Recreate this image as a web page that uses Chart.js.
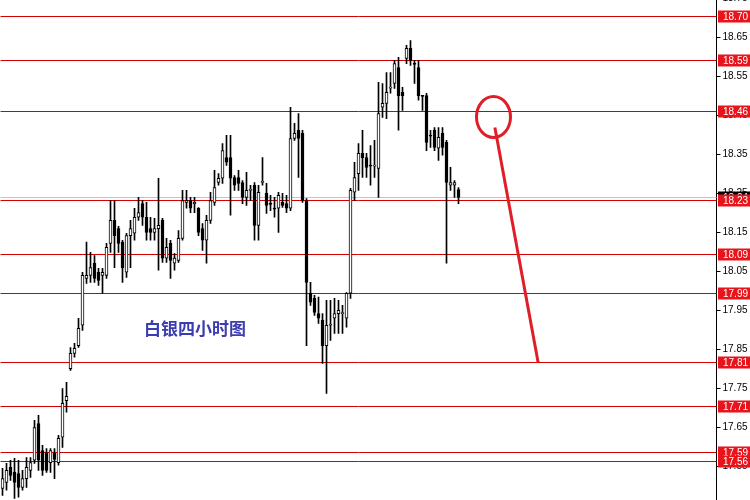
<!DOCTYPE html>
<html><head><meta charset="utf-8">
<script src="https://cdn.jsdelivr.net/npm/chart.js@4/dist/chart.umd.min.js"></script>
<style>html,body{margin:0;padding:0;background:#fff;overflow:hidden}canvas{display:block}</style>
</head><body>
<canvas id="c" width="750" height="500"></canvas>
<script>
// ---- data (silver, 4-hour candles) ----
const opens = [17.494,17.509,17.548,17.535,17.532,17.496,17.519,17.540,17.566,17.660,17.591,17.584,17.560,17.584,17.560,17.625,17.719,17.801,17.840,17.860,
17.912,18.032,18.040,18.071,18.048,18.040,18.040,18.122,18.181,18.160,18.125,18.048,18.142,18.148,18.189,18.224,18.189,18.160,18.150,18.160,
18.181,18.084,18.122,18.071,18.078,18.135,18.227,18.232,18.224,18.212,18.160,18.130,18.181,18.227,18.278,18.289,18.342,18.342,18.291,18.291,
18.278,18.240,18.258,18.271,18.168,18.278,18.250,18.224,18.212,18.212,18.227,18.224,18.212,18.391,18.412,18.404,18.232,17.994,17.981,17.942,
17.925,17.860,17.912,17.930,17.942,17.942,17.930,17.994,18.253,18.301,18.353,18.342,18.322,18.320,18.314,18.471,18.481,18.520,18.532,18.573,
18.509,18.596,18.622,18.583,18.573,18.501,18.501,18.399,18.412,18.366,18.404,18.381,18.271,18.271,18.260];
const highs = [17.545,17.558,17.566,17.571,17.566,17.540,17.573,17.573,17.668,17.681,17.604,17.596,17.596,17.596,17.630,17.750,17.766,17.855,17.866,17.930,
18.048,18.125,18.099,18.091,18.058,18.058,18.122,18.232,18.232,18.166,18.130,18.148,18.181,18.212,18.240,18.232,18.227,18.189,18.186,18.289,
18.186,18.135,18.130,18.096,18.155,18.258,18.258,18.240,18.240,18.214,18.173,18.194,18.253,18.309,18.301,18.378,18.399,18.399,18.296,18.309,
18.283,18.304,18.271,18.278,18.271,18.342,18.276,18.245,18.240,18.253,18.250,18.245,18.471,18.430,18.455,18.412,18.237,18.022,17.989,17.984,
17.942,17.976,17.976,17.981,17.976,17.963,17.996,18.263,18.330,18.378,18.412,18.353,18.373,18.386,18.535,18.532,18.560,18.560,18.591,18.599,
18.522,18.630,18.642,18.591,18.591,18.501,18.507,18.412,18.419,18.419,18.419,18.386,18.317,18.283,18.265];
const lows = [17.476,17.489,17.514,17.468,17.471,17.489,17.496,17.522,17.558,17.540,17.527,17.535,17.535,17.519,17.553,17.599,17.689,17.796,17.830,17.855,
17.899,18.019,18.022,18.022,18.014,17.994,18.032,18.099,18.060,18.099,18.022,18.035,18.060,18.130,18.181,18.168,18.130,18.130,18.130,18.053,
18.073,18.073,18.032,18.053,18.073,18.130,18.212,18.201,18.201,18.142,18.104,18.071,18.173,18.219,18.271,18.276,18.322,18.194,18.258,18.258,
18.224,18.219,18.232,18.130,18.130,18.271,18.199,18.206,18.189,18.150,18.214,18.201,18.206,18.386,18.291,18.227,17.860,17.963,17.937,17.917,
17.814,17.737,17.873,17.891,17.891,17.891,17.907,17.981,18.232,18.258,18.291,18.291,18.271,18.291,18.240,18.445,18.442,18.507,18.519,18.412,
18.463,18.583,18.578,18.532,18.489,18.463,18.360,18.368,18.360,18.335,18.348,18.071,18.258,18.240,18.224];
const closes = [17.519,17.540,17.527,17.509,17.496,17.519,17.548,17.560,17.650,17.566,17.540,17.540,17.591,17.568,17.622,17.712,17.730,17.840,17.853,17.904,
18.040,18.040,18.060,18.032,18.027,18.048,18.112,18.181,18.142,18.122,18.060,18.142,18.160,18.189,18.201,18.189,18.150,18.150,18.160,18.168,
18.084,18.112,18.078,18.084,18.135,18.232,18.232,18.212,18.227,18.150,18.130,18.181,18.232,18.265,18.289,18.360,18.330,18.289,18.271,18.276,
18.240,18.258,18.260,18.168,18.253,18.281,18.219,18.222,18.210,18.245,18.219,18.212,18.391,18.404,18.391,18.232,18.022,17.971,17.945,17.930,
17.860,17.912,17.914,17.942,17.950,17.944,17.994,18.258,18.291,18.353,18.342,18.317,18.320,18.322,18.455,18.481,18.509,18.522,18.583,18.501,
18.501,18.622,18.591,18.581,18.501,18.499,18.381,18.397,18.368,18.394,18.368,18.278,18.278,18.278,18.240];

const levelPrices = [18.706, 18.593, 18.462, 18.234, 18.095, 17.995, 17.818, 17.706, 17.587, 17.564];
const levelLabels = ['18.70','18.59','18.46','18.23','18.09','17.99','17.81','17.71','17.59','17.56'];
const tickValues = [17.55,17.65,17.75,17.85,17.95,18.05,18.15,18.25,18.35,18.45,18.55,18.65,18.75];
const lastPrice = 18.24;
const lastLabel = '18.24';
const yMin = 17.464, yMax = 18.746;
const slotCount = 179;
const titleText = '白银四小时图';
const titleAnchor = {index: 48.1, price: 17.904};
const circleAnchor = {index: 122.75, price: 18.446};
const arrowStart = {index: 123.1, price: 18.419};
const arrowEnd = {index: 133.9, price: 17.817};

// ---- build chart ----
const labels = Array.from({length: slotCount}, (_, i) => String(i));
const bodyData = opens.map((o, i) => [o, closes[i]]);
const wickData = lows.map((l, i) => [l, highs[i]]);
const bodyFill = opens.map((o, i) => closes[i] >= o ? '#ffffff' : '#000000');

const overlay = {
  id: 'overlay',
  beforeDatasetsDraw(chart) {
    const {ctx, chartArea: a, scales: {y}} = chart;
    ctx.save();
    ctx.lineWidth = 1;
    const gy = Math.round(y.getPixelForValue(lastPrice)) + 0.5;
    ctx.strokeStyle = '#c4c4c4';
    ctx.beginPath(); ctx.moveTo(a.left, gy); ctx.lineTo(a.right, gy); ctx.stroke();
    ctx.strokeStyle = '#d20000';
    levelPrices.forEach(v => {
      const py = Math.round(y.getPixelForValue(v)) + 0.5;
      ctx.beginPath(); ctx.moveTo(a.left, py); ctx.lineTo(a.right, py); ctx.stroke();
    });
    ctx.restore();
  },
  afterDraw(chart) {
    const {ctx, chartArea: a, scales: {x, y}} = chart;
    ctx.save();
    // title
    ctx.font = 'bold 17px "Noto Sans CJK SC"';
    ctx.fillStyle = '#3b3bb2';
    ctx.textAlign = 'center';
    ctx.textBaseline = 'middle';
    ctx.fillText(titleText, x.getPixelForValue(titleAnchor.index), y.getPixelForValue(titleAnchor.price));
    // circle + line annotation
    ctx.strokeStyle = '#e01e28';
    ctx.lineWidth = 3;
    ctx.beginPath();
    ctx.ellipse(x.getPixelForValue(circleAnchor.index), y.getPixelForValue(circleAnchor.price), 17, 20.5, 0, 0, Math.PI * 2);
    ctx.stroke();
    ctx.beginPath();
    ctx.moveTo(x.getPixelForValue(arrowStart.index), y.getPixelForValue(arrowStart.price));
    ctx.lineTo(x.getPixelForValue(arrowEnd.index), y.getPixelForValue(arrowEnd.price));
    ctx.stroke();
    // price labels on the axis
    ctx.font = '10px "Liberation Sans", Arial, sans-serif';
    ctx.textAlign = 'left';
    ctx.textBaseline = 'middle';
    const boxX = Math.round(a.right) + 1, boxW = 750 - boxX, boxH = 12;
    const drawBox = (v, txt, fill) => {
      const py = Math.round(y.getPixelForValue(v));
      ctx.fillStyle = fill;
      ctx.fillRect(boxX, py - boxH / 2 + 0.5, boxW, boxH);
      ctx.fillStyle = '#ffffff';
      ctx.fillText(txt, boxX + 5, py + 1);
    };
    drawBox(lastPrice, lastLabel, '#000000');
    levelPrices.forEach((v, i) => drawBox(v, levelLabels[i], '#e8141c'));
    ctx.restore();
  }
};

new Chart(document.getElementById('c'), {
  type: 'bar',
  data: {
    labels,
    datasets: [
      {
        label: 'wick', data: wickData, backgroundColor: '#000000', borderWidth: 0,
        barThickness: 1, grouped: false, order: 2
      },
      {
        label: 'body', data: bodyData, backgroundColor: bodyFill, borderColor: '#000000',
        borderWidth: 1, borderSkipped: false, barThickness: 3, minBarLength: 1, grouped: false, order: 1
      }
    ]
  },
  options: {
    responsive: false,
    animation: false,
    devicePixelRatio: 1,
    layout: {padding: {left: 0.5, right: 0, top: 0, bottom: 0}},
    plugins: {legend: {display: false}, tooltip: {enabled: false}, title: {display: false}},
    scales: {
      x: {display: false, offset: true},
      y: {
        position: 'right',
        min: yMin, max: yMax,
        afterBuildTicks: s => { s.ticks = tickValues.map(v => ({value: v})); },
        afterFit: s => { s.width = 33.5; s.paddingTop = 0; s.paddingBottom = 0; },
        ticks: {
          autoSkip: false, padding: 2, color: '#000000',
          font: {family: '"Liberation Sans", Arial, sans-serif', size: 10},
          callback: v => Number(v).toFixed(2)
        },
        grid: {drawOnChartArea: false, drawTicks: true, tickLength: 4, color: '#000000'},
        border: {display: true, color: '#000000', width: 1}
      }
    }
  },
  plugins: [overlay]
});
</script>
</body></html>
